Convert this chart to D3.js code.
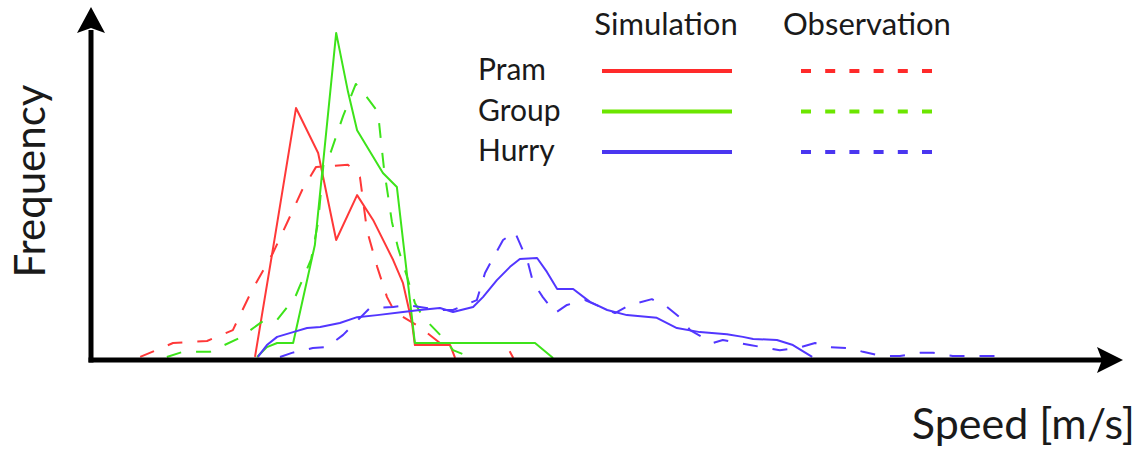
<!DOCTYPE html>
<html>
<head>
<meta charset="utf-8">
<script src="https://cdn.jsdelivr.net/npm/d3@7"></script>
<style>
  html, body { margin: 0; padding: 0; background: #fff; }
  svg text { font-family: Lato, "Open Sans", sans-serif; fill: #1a1a1a; }
</style>
</head>
<body>
<svg id="chart" width="1142" height="452"></svg>
<script>
// speed [m/s] / frequency (relative) pairs
var pramSimulation = [
  [0.400, 0.009], [0.449, 0.365], [0.500, 0.741], [0.554, 0.609], [0.598, 0.353],
  [0.649, 0.485], [0.688, 0.412], [0.737, 0.294], [0.761, 0.226], [0.783, 0.109],
  [0.790, 0.044], [0.876, 0.044], [0.888, 0.006]
];
var pramObservation = [
  [0.120, 0.009], [0.200, 0.050], [0.283, 0.056], [0.346, 0.088], [0.393, 0.206],
  [0.444, 0.315], [0.478, 0.403], [0.515, 0.500], [0.549, 0.568], [0.627, 0.574],
  [0.656, 0.538], [0.673, 0.382], [0.698, 0.274], [0.722, 0.185], [0.741, 0.141],
  [0.802, 0.097], [0.851, 0.050], [1.010, 0.050], [1.030, 0.006]
];
var groupSimulation = [
  [0.405, 0.009], [0.429, 0.038], [0.454, 0.050], [0.493, 0.050], [0.546, 0.338],
  [0.598, 0.962], [0.627, 0.788], [0.649, 0.676], [0.712, 0.550], [0.746, 0.509],
  [0.790, 0.050], [1.083, 0.050], [1.127, 0.006]
];
var groupObservation = [
  [0.185, 0.009], [0.224, 0.024], [0.290, 0.024], [0.363, 0.065], [0.420, 0.115],
  [0.454, 0.118], [0.498, 0.185], [0.537, 0.297], [0.554, 0.406], [0.568, 0.588],
  [0.585, 0.612], [0.615, 0.718], [0.646, 0.812], [0.671, 0.776], [0.700, 0.729],
  [0.707, 0.647], [0.715, 0.559], [0.734, 0.406], [0.749, 0.329], [0.771, 0.244],
  [0.790, 0.168], [0.810, 0.126], [0.868, 0.053], [0.883, 0.029], [0.924, 0.009]
];
var hurrySimulation = [
  [0.407, 0.009], [0.429, 0.044], [0.454, 0.068], [0.493, 0.082], [0.527, 0.094],
  [0.559, 0.097], [0.607, 0.109], [0.649, 0.126], [0.698, 0.132], [0.761, 0.141],
  [0.802, 0.147], [0.851, 0.153], [0.883, 0.141], [0.932, 0.156], [0.956, 0.185],
  [0.990, 0.235], [1.022, 0.274], [1.046, 0.297], [1.088, 0.300], [1.112, 0.259],
  [1.137, 0.209], [1.176, 0.209], [1.217, 0.171], [1.259, 0.147], [1.307, 0.132],
  [1.380, 0.124], [1.429, 0.094], [1.485, 0.082], [1.551, 0.076], [1.590, 0.068],
  [1.615, 0.062], [1.673, 0.059], [1.712, 0.044], [1.759, 0.009]
];
var hurryObservation = [
  [0.461, 0.009], [0.490, 0.021], [0.541, 0.035], [0.576, 0.038], [0.615, 0.074],
  [0.644, 0.109], [0.680, 0.153], [0.737, 0.156], [0.771, 0.162], [0.802, 0.156],
  [0.851, 0.147], [0.883, 0.147], [0.941, 0.176], [0.961, 0.256], [0.978, 0.294],
  [1.005, 0.353], [1.034, 0.376], [1.051, 0.329], [1.066, 0.285], [1.078, 0.229],
  [1.102, 0.185], [1.132, 0.138], [1.161, 0.162], [1.205, 0.176], [1.278, 0.138],
  [1.315, 0.162], [1.368, 0.179], [1.405, 0.156], [1.444, 0.118], [1.461, 0.088],
  [1.517, 0.050], [1.541, 0.059], [1.607, 0.044], [1.680, 0.029], [1.722, 0.035],
  [1.766, 0.050], [1.798, 0.038], [1.851, 0.035], [1.883, 0.024], [1.929, 0.012],
  [1.973, 0.012], [2.022, 0.021], [2.054, 0.021], [2.102, 0.012], [2.234, 0.012]
];

var seriesNames = ['Pram', 'Group', 'Hurry'];
var sourceNames = ['Simulation', 'Observation'];
var speedDomain = [0, 2.5];
var frequencyDomain = [0, 1];

(function() {
  'use strict';

  var svg = d3.select('#chart');
  var colors = {
    Pram: '#ff3838',
    Group: '#3de31a',
    Hurry: '#5236ff'
  };
  var legendColors = {
    Pram: '#ff2a2a',
    Group: '#6ce600',
    Hurry: '#4a36f0'
  };
  var series = [
    {name: 'Pram', dashed: false, values: pramSimulation},
    {name: 'Pram', dashed: true, values: pramObservation},
    {name: 'Group', dashed: false, values: groupSimulation},
    {name: 'Group', dashed: true, values: groupObservation},
    {name: 'Hurry', dashed: false, values: hurrySimulation},
    {name: 'Hurry', dashed: true, values: hurryObservation}
  ];

  var x = d3.scaleLinear().domain(speedDomain).range([91, 1116]);
  var y = d3.scaleLinear().domain(frequencyDomain).range([360, 20]);

  var line = d3.line()
    .x(function(d) { return x(d[0]); })
    .y(function(d) { return y(d[1]); });

  svg.append('g')
    .selectAll('path')
    .data(series)
    .enter().append('path')
    .attr('d', function(s) { return line(s.values); })
    .attr('fill', 'none')
    .attr('stroke', function(s) { return colors[s.name]; })
    .attr('stroke-width', 2)
    .attr('stroke-linejoin', 'round')
    .attr('stroke-dasharray', function(s) { return s.dashed ? '15,15' : null; });

  // axes: plain domain lines, arrow heads added by hand
  var x0 = x.range()[0], y0 = y.range()[0];
  var xAxis = svg.append('g')
    .attr('transform', 'translate(0,' + y0 + ')')
    .call(d3.axisBottom(x).tickValues([]).tickSizeOuter(0));
  xAxis.select('.domain')
    .attr('stroke', '#000')
    .attr('stroke-width', 5)
    .attr('d', 'M' + (x0 - 2.5) + ',0H' + (x.range()[1] - 10));

  var yAxis = svg.append('g')
    .attr('transform', 'translate(' + x0 + ',0)')
    .call(d3.axisLeft(y).tickValues([]).tickSizeOuter(0));
  yAxis.select('.domain')
    .attr('stroke', '#000')
    .attr('stroke-width', 5)
    .attr('d', 'M0,' + (y0 + 2.5) + 'V' + (y.range()[1] + 10));

  var xTip = x.range()[1] + 7, yTip = y.range()[1] - 13;
  svg.append('path')
    .attr('d', 'M' + xTip + ',' + y0 + 'L' + (xTip - 26) + ',' + (y0 - 13) +
      'L' + (xTip - 21) + ',' + y0 + 'L' + (xTip - 26) + ',' + (y0 + 13) + 'Z')
    .attr('fill', '#000');
  svg.append('path')
    .attr('d', 'M' + x0 + ',' + yTip + 'L' + (x0 - 14) + ',' + (yTip + 26) +
      'L' + x0 + ',' + (yTip + 21) + 'L' + (x0 + 14) + ',' + (yTip + 26) + 'Z')
    .attr('fill', '#000');

  svg.append('text')
    .attr('transform', 'translate(45,181) rotate(-90)')
    .attr('text-anchor', 'middle')
    .style('font-size', '42px')
    .text('Frequency');

  svg.append('text')
    .attr('x', 1135)
    .attr('y', 439)
    .attr('text-anchor', 'end')
    .style('font-size', '43px')
    .text('Speed [m/s]');

  // legend
  var legend = svg.append('g').attr('class', 'legend');
  var columnCenters = [666, 867];
  legend.selectAll('text.column')
    .data(sourceNames)
    .enter().append('text')
    .attr('class', 'column')
    .attr('x', function(d, i) { return columnCenters[i]; })
    .attr('y', 35)
    .attr('text-anchor', 'middle')
    .style('font-size', '31px')
    .text(function(d) { return d; });

  var rows = legend.selectAll('g.row')
    .data(seriesNames)
    .enter().append('g')
    .attr('class', 'row')
    .attr('transform', function(d, i) { return 'translate(0,' + (71 + i * 40.5) + ')'; });

  rows.append('text')
    .attr('x', 478)
    .attr('y', 9)
    .style('font-size', '30px')
    .text(function(d) { return d; });

  rows.append('line')
    .attr('x1', 602).attr('x2', 732)
    .attr('stroke', function(d) { return legendColors[d]; })
    .attr('stroke-width', 4);

  rows.append('line')
    .attr('x1', 801).attr('x2', 932)
    .attr('stroke', function(d) { return legendColors[d]; })
    .attr('stroke-width', 4)
    .attr('stroke-dasharray', '10,14.2');
})();
</script>
</body>
</html>
